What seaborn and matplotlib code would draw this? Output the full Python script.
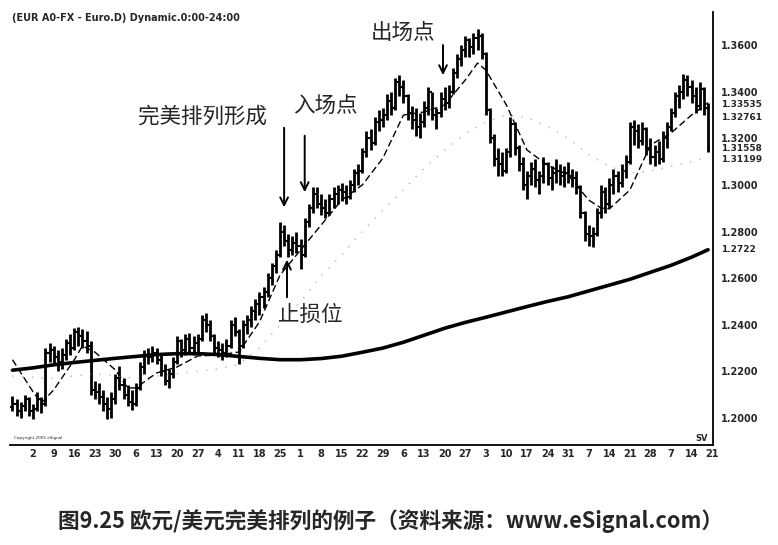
import pandas as pd
import seaborn as sns
import matplotlib.pyplot as plt

# daily EUR/USD bars, Jul 26 2004 - Mar 18 2005
highs = [1.2095, 1.2080, 1.2070, 1.2100, 1.2090,
         1.2060, 1.2110, 1.2090, 1.2300, 1.2320,
         1.2310, 1.2290, 1.2300, 1.2340, 1.2360,
         1.2385, 1.2390, 1.2380, 1.2375, 1.2330,
         1.2160, 1.2150, 1.2120, 1.2090, 1.2110,
         1.2190, 1.2225, 1.2170, 1.2140, 1.2120,
         1.2150, 1.2240, 1.2290, 1.2300, 1.2310,
         1.2300, 1.2280, 1.2230, 1.2210, 1.2260,
         1.2350, 1.2340, 1.2360, 1.2365, 1.2350,
         1.2360, 1.2440, 1.2450, 1.2420, 1.2360,
         1.2330, 1.2320, 1.2340, 1.2420, 1.2435,
         1.2380, 1.2420, 1.2440, 1.2480, 1.2510,
         1.2540, 1.2560, 1.2620, 1.2665, 1.2720,
         1.2840, 1.2830, 1.2790, 1.2780, 1.2800,
         1.2770, 1.2860, 1.2920, 1.2990, 1.2990,
         1.2960, 1.2940, 1.2960, 1.2990, 1.3000,
         1.3010, 1.3000, 1.3020, 1.3070, 1.3090,
         1.3160, 1.3230, 1.3240, 1.3290, 1.3320,
         1.3330, 1.3390, 1.3400, 1.3460, 1.3470,
         1.3450, 1.3390, 1.3340, 1.3330, 1.3310,
         1.3360, 1.3420, 1.3400, 1.3330, 1.3400,
         1.3420, 1.3430, 1.3500, 1.3560, 1.3600,
         1.3640, 1.3630, 1.3650, 1.3667, 1.3650,
         1.3570, 1.3330, 1.3220, 1.3160, 1.3140,
         1.3160, 1.3290, 1.3270, 1.3170, 1.3120,
         1.3060, 1.3100, 1.3110, 1.3060, 1.3120,
         1.3100, 1.3080, 1.3110, 1.3090, 1.3080,
         1.3100, 1.3070, 1.3060, 1.3000, 1.2890,
         1.2830, 1.2820, 1.2900, 1.3000, 1.2990,
         1.3030, 1.3070, 1.3060, 1.3090, 1.3130,
         1.3270, 1.3280, 1.3260, 1.3270, 1.3250,
         1.3200, 1.3170, 1.3190, 1.3230, 1.3270,
         1.3330, 1.3400, 1.3430, 1.3478, 1.3470,
         1.3450, 1.3420, 1.3440, 1.3420, 1.3350]
lows = [1.2030, 1.2010, 1.2000, 1.2030, 1.2010,
        1.1995, 1.2030, 1.2020, 1.2050, 1.2240,
        1.2230, 1.2200, 1.2210, 1.2250, 1.2270,
        1.2290, 1.2310, 1.2300, 1.2280, 1.2100,
        1.2080, 1.2060, 1.2030, 1.1995, 1.2000,
        1.2060, 1.2120, 1.2080, 1.2050, 1.2035,
        1.2050, 1.2120, 1.2190, 1.2230, 1.2240,
        1.2230, 1.2180, 1.2140, 1.2130, 1.2170,
        1.2230, 1.2260, 1.2270, 1.2280, 1.2270,
        1.2280, 1.2330, 1.2370, 1.2330, 1.2280,
        1.2260, 1.2250, 1.2260, 1.2300, 1.2350,
        1.2230, 1.2300, 1.2360, 1.2390, 1.2420,
        1.2440, 1.2470, 1.2520, 1.2570, 1.2620,
        1.2690, 1.2740, 1.2690, 1.2700, 1.2710,
        1.2640, 1.2690, 1.2820, 1.2880, 1.2900,
        1.2870, 1.2860, 1.2870, 1.2900, 1.2920,
        1.2930, 1.2920, 1.2940, 1.2970, 1.3000,
        1.3050, 1.3120, 1.3150, 1.3170, 1.3230,
        1.3250, 1.3280, 1.3300, 1.3320, 1.3380,
        1.3350, 1.3280, 1.3240, 1.3210, 1.3200,
        1.3250, 1.3300, 1.3280, 1.3240, 1.3290,
        1.3320, 1.3330, 1.3390, 1.3460, 1.3510,
        1.3550, 1.3550, 1.3560, 1.3580, 1.3540,
        1.3300, 1.3180, 1.3080, 1.3040, 1.3040,
        1.3050, 1.3120, 1.3130, 1.3060, 1.2980,
        1.2940, 1.3000, 1.2990, 1.2960, 1.3010,
        1.3000, 1.2980, 1.3010, 1.3000, 1.2990,
        1.3010, 1.2990, 1.2960, 1.2860, 1.2760,
        1.2740, 1.2735, 1.2780, 1.2860, 1.2880,
        1.2900, 1.2960, 1.2970, 1.2990, 1.3030,
        1.3090, 1.3170, 1.3160, 1.3170, 1.3130,
        1.3090, 1.3080, 1.3090, 1.3100, 1.3160,
        1.3230, 1.3290, 1.3330, 1.3370, 1.3380,
        1.3350, 1.3310, 1.3320, 1.3300, 1.3140]
closes = [1.2060, 1.2030, 1.2050, 1.2080, 1.2030,
          1.2040, 1.2080, 1.2060, 1.2280, 1.2290,
          1.2260, 1.2240, 1.2270, 1.2320, 1.2300,
          1.2370, 1.2350, 1.2330, 1.2310, 1.2120,
          1.2110, 1.2090, 1.2060, 1.2040, 1.2080,
          1.2170, 1.2140, 1.2100, 1.2070, 1.2060,
          1.2130, 1.2220, 1.2270, 1.2260, 1.2280,
          1.2250, 1.2200, 1.2160, 1.2190, 1.2240,
          1.2330, 1.2290, 1.2340, 1.2300, 1.2320,
          1.2340, 1.2420, 1.2400, 1.2350, 1.2300,
          1.2290, 1.2280, 1.2310, 1.2400, 1.2370,
          1.2310, 1.2400, 1.2420, 1.2460, 1.2490,
          1.2520, 1.2540, 1.2600, 1.2650, 1.2700,
          1.2800, 1.2760, 1.2720, 1.2750, 1.2740,
          1.2700, 1.2840, 1.2900, 1.2960, 1.2920,
          1.2900, 1.2880, 1.2940, 1.2960, 1.2980,
          1.2970, 1.2950, 1.3000, 1.3050, 1.3060,
          1.3140, 1.3200, 1.3180, 1.3270, 1.3280,
          1.3300, 1.3360, 1.3330, 1.3440, 1.3420,
          1.3380, 1.3310, 1.3280, 1.3250, 1.3270,
          1.3330, 1.3400, 1.3300, 1.3310, 1.3370,
          1.3350, 1.3400, 1.3480, 1.3540, 1.3580,
          1.3620, 1.3590, 1.3630, 1.3640, 1.3560,
          1.3320, 1.3200, 1.3110, 1.3090, 1.3060,
          1.3140, 1.3260, 1.3160, 1.3090, 1.3000,
          1.3040, 1.3070, 1.3020, 1.3040, 1.3090,
          1.3030, 1.3050, 1.3060, 1.3040, 1.3050,
          1.3040, 1.3030, 1.2990, 1.2880, 1.2790,
          1.2780, 1.2790, 1.2880, 1.2970, 1.2920,
          1.3000, 1.3040, 1.3010, 1.3060, 1.3100,
          1.3250, 1.3230, 1.3190, 1.3240, 1.3160,
          1.3120, 1.3140, 1.3110, 1.3200, 1.3250,
          1.3310, 1.3380, 1.3400, 1.3450, 1.3420,
          1.3380, 1.3340, 1.3410, 1.3330, 1.3156]
first_open = 1.2045

# moving averages, sampled at the bar indices given
ma_long_idx = [0, 5, 10, 15, 20, 25, 30, 35, 40, 45, 50, 55, 60, 65, 70, 75, 80, 85,
               90, 95, 100, 105, 110, 115, 120, 125, 130, 135, 140, 145, 150, 155,
               160, 165, 169]
ma_long = [1.2205, 1.2215, 1.2228, 1.2238, 1.2247, 1.2256, 1.2264, 1.2272, 1.2276,
           1.2276, 1.2272, 1.2264, 1.2256, 1.2250, 1.2250, 1.2255, 1.2265, 1.2282,
           1.2300, 1.2325, 1.2355, 1.2385, 1.2410, 1.2432, 1.2455, 1.2478, 1.2500,
           1.2520, 1.2545, 1.2570, 1.2595, 1.2625, 1.2655, 1.2690, 1.2722]
ma_mid_idx = [0, 5, 7, 10, 15, 17, 20, 25, 28, 30, 35, 40, 45, 50, 55, 60, 65, 70,
              75, 80, 85, 90, 95, 100, 105, 110, 113, 115, 120, 125, 130, 135, 140,
              143, 145, 150, 155, 160, 165, 169]
ma_mid = [1.2250, 1.2112, 1.2064, 1.2120, 1.2249, 1.2309, 1.2283, 1.2206, 1.2129,
          1.2129, 1.2193, 1.2219, 1.2266, 1.2270, 1.2283, 1.2412, 1.2613, 1.2721,
          1.2828, 1.2935, 1.3000, 1.3115, 1.3300, 1.3313, 1.3343, 1.3450, 1.3523,
          1.3493, 1.3343, 1.3150, 1.3085, 1.3043, 1.2935, 1.2901, 1.2897, 1.2978,
          1.3171, 1.3223, 1.3300, 1.3353]
ma_dot_idx = [0, 10, 20, 30, 40, 50, 55, 60, 65, 70, 75, 80, 85, 90, 95, 100, 105,
              110, 115, 120, 125, 130, 135, 140, 145, 150, 155, 160, 165, 169]
ma_dot = [1.2180, 1.2170, 1.2190, 1.2170, 1.2190, 1.2210, 1.2230, 1.2300, 1.2400,
          1.2500, 1.2610, 1.2700, 1.2800, 1.2890, 1.2980, 1.3070, 1.3150, 1.3220,
          1.3270, 1.3300, 1.3290, 1.3250, 1.3200, 1.3130, 1.3080, 1.3050, 1.3060,
          1.3080, 1.3100, 1.3120]

week_labels = ["2", "9", "16", "23", "30", "6", "13", "20", "27", "4", "11", "18",
               "25", "1", "8", "15", "22", "29", "6", "13", "20", "27", "3", "10",
               "17", "24", "31", "7", "14", "21", "28", "7", "14", "21"]
price_ticks = [1.20, 1.22, 1.24, 1.26, 1.28, 1.30, 1.32, 1.34, 1.36]
last_values = ["1.33535", "1.32761", "1.31558", "1.31199", "1.2722"]
label_nudge = [-1.5, 2, 0, -2, 0]  # points, the chart squeezes these tags apart

bars = pd.DataFrame({"high": highs, "low": lows, "close": closes})
bars["open"] = [first_open] + closes[:-1]
bars["i"] = range(len(bars))

sns.set_style("white")
plt.rcParams["font.family"] = ["Noto Sans CJK SC", "DejaVu Sans"]

fig = plt.figure(figsize=(7.78, 5.45), dpi=100)
ax = fig.add_axes([10 / 778, 100 / 545, 703 / 778, 433 / 545])

ax.vlines(bars["i"], bars["low"], bars["high"], color="black", lw=2.0)
ax.hlines(bars["open"], bars["i"] - 0.5, bars["i"], color="black", lw=1.5)
ax.hlines(bars["close"], bars["i"], bars["i"] + 0.5, color="black", lw=1.5)

sns.lineplot(x=ma_long_idx, y=ma_long, ax=ax, color="black", lw=2.6)
sns.lineplot(x=ma_mid_idx, y=ma_mid, ax=ax, color="black", lw=1.0,
             linestyle=(0, (5, 2.5)))
sns.lineplot(x=ma_dot_idx, y=ma_dot, ax=ax, color="#888888", lw=1.0,
             linestyle=(0, (1, 6)), alpha=0.6)

ax.set_xlim(-0.6, 170.2)
ax.set_ylim(1.1884, 1.3742)
ax.set_xticks(range(5, 5 * len(week_labels) + 1, 5))
ax.set_xticklabels(week_labels, fontsize=7, fontweight="bold", family="DejaVu Sans")
ax.yaxis.tick_right()
ax.set_yticks(price_ticks)
ax.set_yticklabels([f"{v:.4f}" for v in price_ticks], fontsize=7,
                   fontweight="bold", family="DejaVu Sans")
ax.tick_params(axis="both", length=0)
ax.tick_params(axis="x", pad=3)
ax.tick_params(axis="y", pad=6)
for side in ["left", "top"]:
    ax.spines[side].set_visible(False)
for side in ["right", "bottom"]:
    ax.spines[side].set_color("black")
    ax.spines[side].set_linewidth(1.3)

for s, dy in zip(last_values, label_nudge):
    ax.annotate(s, xy=(1.0, float(s)), xycoords=("axes fraction", "data"),
                xytext=(6, dy), textcoords="offset points", va="center", ha="left",
                fontsize=6.5, fontweight="bold", family="DejaVu Sans")

ax.text(0.003, 0.998, "(EUR A0-FX - Euro.D) Dynamic.0:00-24:00", transform=ax.transAxes,
        fontsize=7, fontweight="bold", family="DejaVu Sans", va="top", ha="left")
ax.text(0.006, 0.012, "Copyright 2005 eSignal", transform=ax.transAxes,
        fontsize=3, family="DejaVu Sans", va="bottom", ha="left")
ax.text(0.992, 0.005, "SV", transform=ax.transAxes, fontsize=6, fontweight="bold",
        family="DejaVu Sans", va="bottom", ha="right")

arrow = dict(arrowstyle="->", color="black", lw=1.4, mutation_scale=14)
cjk = ["Noto Sans CJK SC", "DejaVu Sans"]
ax.annotate("", xy=(66, 1.2892), xytext=(66, 1.3257), arrowprops=arrow)
ax.annotate("", xy=(71, 1.2957), xytext=(71, 1.3223), arrowprops=arrow)
ax.annotate("", xy=(104.6, 1.3459), xytext=(104.6, 1.3612), arrowprops=arrow)
ax.annotate("", xy=(66.7, 1.2691), xytext=(66.7, 1.2506), arrowprops=arrow)
ax.text(46.1, 1.3291, "完美排列形成", fontsize=15.5, fontweight="medium", family=cjk,
        ha="center", va="center")
ax.text(76, 1.3339, "入场点", fontsize=15.5, fontweight="medium", family=cjk,
        ha="center", va="center")
ax.text(95, 1.3652, "出场点", fontsize=15.5, fontweight="medium", family=cjk,
        ha="center", va="center")
ax.text(72.3, 1.2442, "止损位", fontsize=15.5, fontweight="medium", family=cjk,
        ha="center", va="center")

fig.text(391 / 778, 1 - 521 / 545, "图9.25 欧元/美元完美排列的例子（资料来源：www.eSignal.com）",
         fontsize=15.6, fontweight="bold", family=cjk, ha="center", va="center")

fig.savefig("out.png", dpi=100, facecolor="white")
